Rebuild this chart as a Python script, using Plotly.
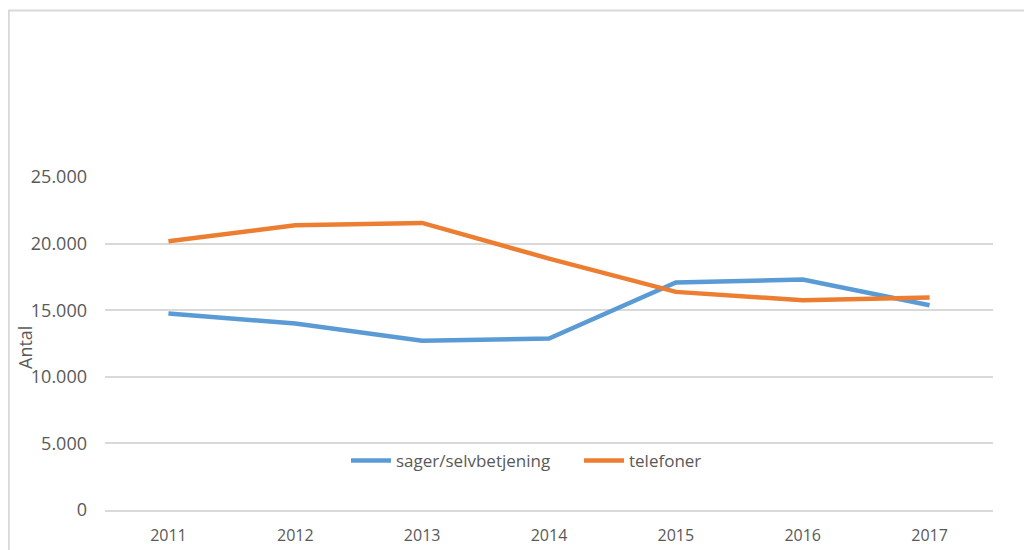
import plotly.graph_objects as go

years = ["2011", "2012", "2013", "2014", "2015", "2016", "2017"]
sager = [14750, 14000, 12700, 12875, 17075, 17300, 15375]
telefoner = [20175, 21375, 21550, 18875, 16375, 15750, 15950]
series_names = ["sager/selvbetjening", "telefoner"]
y_ticks = [0, 5000, 10000, 15000, 20000, 25000]

# page body has an 8px margin, so the figure is sized to fill the remaining window
W, H = 1024, 542
L, R, T, B = 97, 39, 169, 40
PW, PH = W - L - R, H - T - B

fig = go.Figure()
fig.add_trace(go.Scatter(x=years, y=sager, mode="lines", name=series_names[0],
                         line=dict(color="#5B9BD5", width=4.5)))
fig.add_trace(go.Scatter(x=years, y=telefoner, mode="lines", name=series_names[1],
                         line=dict(color="#ED7D31", width=4.5)))

font_fam = "Open Sans, Noto Sans, sans-serif"
fig.update_layout(
    width=W, height=H,
    margin=dict(l=L, r=R, t=T, b=B, pad=0, autoexpand=False),
    paper_bgcolor="white", plot_bgcolor="white",
    separators=",.",
    font=dict(family=font_fam, color="#595959", size=16),
    showlegend=True,
    legend=dict(orientation="h", x=(346 - 105) / PW, xanchor="left",
                y=(502 - 453) / PH, yanchor="middle", entrywidth=178, itemwidth=40,
                font=dict(size=17, color="#595959"), bgcolor="rgba(0,0,0,0)",
                tracegroupgap=0),
    xaxis=dict(type="category", range=[-0.5, 6.5], showgrid=False, showline=True,
               linecolor="#d9d9d9", linewidth=2, ticks="", zeroline=False, automargin=False,
               tickfont=dict(size=16, color="#595959"), ticklabelstandoff=10),
    yaxis=dict(range=[0, 25000], tickvals=y_ticks, tickformat=",d", showgrid=True,
               gridcolor="#d9d9d9", gridwidth=2, zeroline=False, showline=False, automargin=False,
               ticks="", tickfont=dict(size=18, color="#595959"), ticklabelstandoff=17),
)

fig.add_annotation(text="Antal", xref="paper", yref="paper", x=(17 - L) / PW,
                   y=(502 - 340) / PH, textangle=-90, showarrow=False,
                   font=dict(size=18, color="#595959"), xanchor="center", yanchor="middle")

fig.add_shape(type="rect", xref="paper", yref="paper",
              x0=(0.8 - L) / PW, x1=1.2, y0=-0.3, y1=(502 - 2.5) / PH,
              line=dict(color="#d9d9d9", width=2), fillcolor="rgba(0,0,0,0)", layer="below")

fig.write_html("out.html")
